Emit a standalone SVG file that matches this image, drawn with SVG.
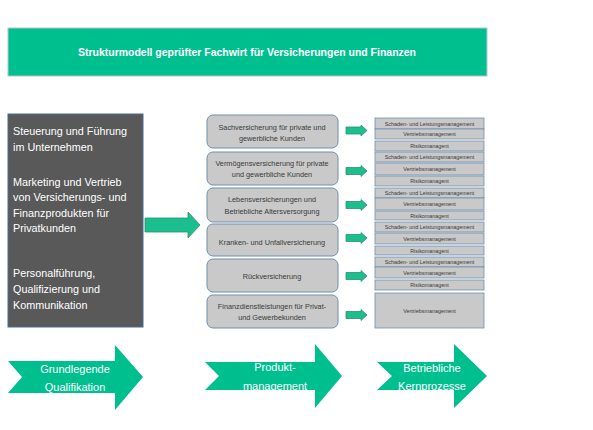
<svg xmlns="http://www.w3.org/2000/svg" width="593" height="430" viewBox="0 0 593 430">
<style>
  .t{font-family:"Liberation Sans",Arial,sans-serif}
  .w{fill:#ffffff}
  .prod{fill:#c9c9c9;stroke:#6f8fb0;stroke-width:1}
  .row{fill:#c9c9c9;stroke:#6f8fb0;stroke-width:0.8}
  .pt{font-size:7.3px;fill:#3a3a3a;text-anchor:middle}
  .rt{font-size:5.4px;fill:#3a3a3a;text-anchor:middle}
  .arr{fill:#1bbf8e;stroke:#2f8f70;stroke-width:0.8}
  .big{fill:#00bf8f}
  .dark{font-size:10.8px}
  .bt{font-size:11px;fill:#ffffff;text-anchor:middle}
</style>
<rect width="593" height="430" fill="#ffffff"/>

<g id="title">
  <rect x="8" y="28" width="479" height="48" fill="#00bf8f" stroke="#b8c4d0" stroke-width="1"/>
  <text class="t w" x="247" y="56" font-size="11" font-weight="bold" text-anchor="middle" textLength="338" lengthAdjust="spacingAndGlyphs">Strukturmodell geprüfter Fachwirt für Versicherungen und Finanzen</text>
</g>

<g id="qualifikation-box">
  <rect x="8" y="114" width="135" height="213" fill="#595959" stroke="#4a6a95" stroke-width="1"/>
  <text class="t w dark" x="13" y="135">Steuerung und Führung</text>
  <text class="t w dark" x="13" y="151">im Unternehmen</text>
  <text class="t w dark" x="13" y="186">Marketing und Vertrieb</text>
  <text class="t w dark" x="13" y="201">von Versicherungs- und</text>
  <text class="t w dark" x="13" y="217">Finanzprodukten für</text>
  <text class="t w dark" x="13" y="232">Privatkunden</text>
  <text class="t w dark" x="13" y="277">Personalführung,</text>
  <text class="t w dark" x="13" y="293">Qualifizierung und</text>
  <text class="t w dark" x="13" y="309">Kommunikation</text>
</g>

<g id="produkt-1">
  <rect class="prod" x="207" y="115" width="131" height="33" rx="6"/>
  <text class="t pt" x="272" y="130">Sachversicherung für private und</text>
  <text class="t pt" x="272" y="141">gewerbliche Kunden</text>
</g>
<g id="produkt-2">
  <rect class="prod" x="207" y="152" width="131" height="33" rx="6"/>
  <text class="t pt" x="272" y="166">Vermögensversicherung für private</text>
  <text class="t pt" x="272" y="177">und gewerbliche Kunden</text>
</g>
<g id="produkt-3">
  <rect class="prod" x="207" y="188" width="131" height="34" rx="6"/>
  <text class="t pt" x="272" y="202">Lebensversicherungen und</text>
  <text class="t pt" x="272" y="214">Betriebliche Altersversorgung</text>
</g>
<g id="produkt-4">
  <rect class="prod" x="207" y="224" width="131" height="32" rx="6"/>
  <text class="t pt" x="272" y="244.5">Kranken- und Unfallversicherung</text>
</g>
<g id="produkt-5">
  <rect class="prod" x="207" y="259" width="131" height="33" rx="6"/>
  <text class="t pt" x="272" y="279">Rückversicherung</text>
</g>
<g id="produkt-6">
  <rect class="prod" x="207" y="295" width="131" height="33" rx="6"/>
  <text class="t pt" x="272" y="309">Finanzdienstleistungen für Privat-</text>
  <text class="t pt" x="272" y="320">und Gewerbekunden</text>
</g>

<g id="kernprozesse">
  <rect class="row" x="375" y="118" width="109" height="11"/>
  <text class="t rt" x="429.5" y="125.5">Schaden- und Leistungsmanagement</text>
  <rect class="row" x="375" y="129" width="109" height="10"/>
  <text class="t rt" x="429.5" y="136">Vertriebsmanagement</text>
  <rect class="row" x="375" y="141" width="109" height="10"/>
  <text class="t rt" x="429.5" y="148">Risikomanagent</text>

  <rect class="row" x="375" y="152" width="109" height="10"/>
  <text class="t rt" x="429.5" y="159">Schaden- und Leistungsmanagement</text>
  <rect class="row" x="375" y="163" width="109" height="12"/>
  <text class="t rt" x="429.5" y="171">Vertriebsmanagement</text>
  <rect class="row" x="375" y="176" width="109" height="10"/>
  <text class="t rt" x="429.5" y="183">Risikomanagent</text>

  <rect class="row" x="375" y="188" width="109" height="10"/>
  <text class="t rt" x="429.5" y="195">Schaden- und Leistungsmanagement</text>
  <rect class="row" x="375" y="198" width="109" height="12"/>
  <text class="t rt" x="429.5" y="206">Vertriebsmanagement</text>
  <rect class="row" x="375" y="211" width="109" height="9"/>
  <text class="t rt" x="429.5" y="217.5">Risikomanagent</text>

  <rect class="row" x="375" y="222" width="109" height="10"/>
  <text class="t rt" x="429.5" y="229">Schaden- und Leistungsmanagement</text>
  <rect class="row" x="375" y="233" width="109" height="11"/>
  <text class="t rt" x="429.5" y="240.5">Vertriebsmanagement</text>
  <rect class="row" x="375" y="246" width="109" height="9"/>
  <text class="t rt" x="429.5" y="252.5">Risikomanagent</text>

  <rect class="row" x="375" y="257" width="109" height="10"/>
  <text class="t rt" x="429.5" y="264">Schaden- und Leistungsmanagement</text>
  <rect class="row" x="375" y="267" width="109" height="11"/>
  <text class="t rt" x="429.5" y="274.5">Vertriebsmanagement</text>
  <rect class="row" x="375" y="280" width="109" height="10"/>
  <text class="t rt" x="429.5" y="287">Risikomanagent</text>

  <rect class="row" x="375" y="293" width="109" height="35"/>
  <text class="t rt" x="429.5" y="313">Vertriebsmanagement</text>
</g>

<g id="connectors">
  <path class="arr" d="M145,218 H188 V212 L200,225 L188,238 V232 H145 Z"/>
  <path class="arr" d="M346,127 H361 V125 L367,130.5 L361,136 V134 H346 Z"/>
  <path class="arr" d="M346,167.5 H361 V165.5 L367,171 L361,176.5 V174.5 H346 Z"/>
  <path class="arr" d="M346,201.5 H361 V199.5 L367,205 L361,210.5 V208.5 H346 Z"/>
  <path class="arr" d="M346,234.5 H361 V232.5 L367,238 L361,243.5 V241.5 H346 Z"/>
  <path class="arr" d="M346,272.5 H361 V270.5 L367,276 L361,281.5 V279.5 H346 Z"/>
  <path class="arr" d="M346,311.5 H361 V309.5 L367,315 L361,320.5 V318.5 H346 Z"/>
</g>

<g id="stufe-1">
  <path class="big" d="M8,361 H115 V345 L143,377 L115,410 V393 H8 L22,377 Z"/>
  <text class="t bt" x="75" y="373">Grundlegende</text>
  <text class="t bt" x="75" y="391">Qualifikation</text>
</g>
<g id="stufe-2">
  <path class="big" d="M205,362 H315 V344 L342,376 L315,408 V390 H205 L219,376 Z"/>
  <text class="t bt" x="275" y="371">Produkt-</text>
  <text class="t bt" x="275" y="390">management</text>
</g>
<g id="stufe-3">
  <path class="big" d="M377,362 H454 V344 L487,376 L454,408 V390 H377 L392,376 Z"/>
  <text class="t bt" x="432" y="372">Betriebliche</text>
  <text class="t bt" x="432" y="390">Kernprozesse</text>
</g>
</svg>
